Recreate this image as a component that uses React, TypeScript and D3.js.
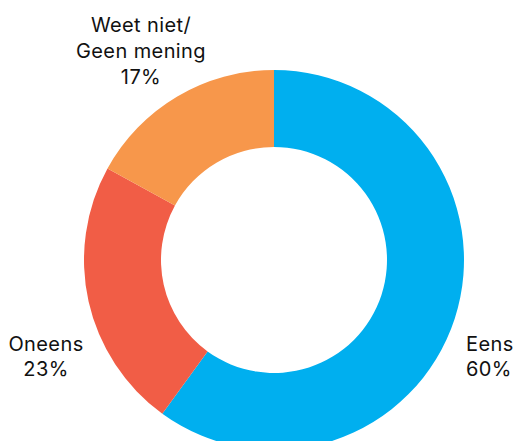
import React, { useEffect, useRef } from 'react';
import * as d3 from 'd3';

// Data
const categories = ['Eens', 'Oneens', 'Weet niet/\nGeen mening'];
const values = [60, 23, 17];
const colors = ['#00AFEF', '#F15D46', '#F7974B'];

// Label placement (text position per slice)
const labelPos = [
  { x: 466, y: 351, anchor: 'start', step: 25 },
  { x: 46, y: 351, anchor: 'middle', step: 25 },
  { x: 141, y: 32, anchor: 'middle', step: 26 },
];

const App: React.FC = () => {
  const ref = useRef<SVGSVGElement>(null);

  useEffect(() => {
    const width = 513;
    const height = 441;
    const cx = 274;
    const cy = 260;
    const outerR = 190;
    const innerR = 113;

    const svg = d3.select(ref.current).attr('width', width).attr('height', height);
    svg.selectAll('*').remove();

    const pie = d3.pie<number>().sort(null).value((d) => d);
    const arc = d3.arc<d3.PieArcDatum<number>>().innerRadius(innerR).outerRadius(outerR);

    const g = svg.append('g').attr('transform', `translate(${cx},${cy})`);
    g.selectAll('path')
      .data(pie(values))
      .enter()
      .append('path')
      .attr('d', arc)
      .attr('fill', (_, i) => colors[i]);

    // Labels
    categories.forEach((cat, i) => {
      const lines = [...cat.split('\n'), `${values[i]}%`];
      const t = svg
        .append('text')
        .attr('text-anchor', labelPos[i].anchor)
        .style('font-family', 'Inter, sans-serif')
        .style('font-size', '20px')
        .style('letter-spacing', '0.4px')
        .attr('fill', '#111');
      lines.forEach((line, j) => {
        t.append('tspan')
          .attr('x', labelPos[i].x)
          .attr('y', labelPos[i].y + j * labelPos[i].step)
          .text(line);
      });
    });
  }, []);

  return <svg ref={ref} style={{ position: 'absolute', left: 0, top: 0 }}></svg>;
};

export default App;
